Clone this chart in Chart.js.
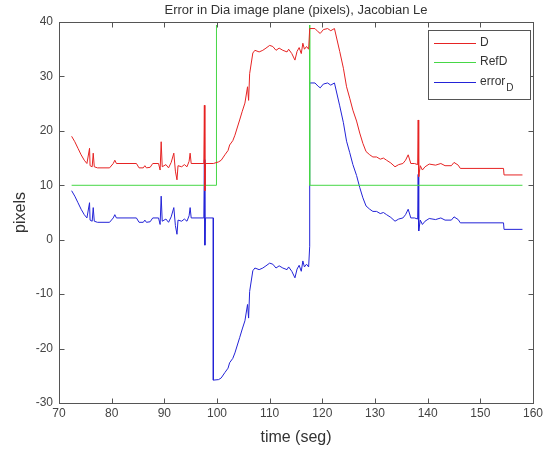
<!DOCTYPE html>
<html lang="en">
<head>
  <meta charset="UTF-8" />
  <title>Error in Dia image plane</title>
  <script src="https://cdn.jsdelivr.net/npm/chart.js"></script>
  <style>
    html, body { margin: 0; padding: 0; background: #fff; }
    canvas { display: block; }
  </style>
</head>
<body>
  <canvas id="errChart" width="548" height="451"></canvas>

  <script>
    // D (measured), time in seconds
    const dTime = [72.4,73.0,73.6,74.2,74.8,75.3,75.8,75.9,76.3,76.5,
      76.7,77.3,79.6,80.3,80.6,80.9,84.7,85.2,86.0,86.3,
      86.6,87.3,87.8,88.9,89.2,89.4,89.6,90.3,90.8,91.3,
      91.8,92.1,92.4,92.6,93.3,93.8,94.3,94.7,94.9,95.1,
      97.5,97.6,97.7,97.8,99.3,100.3,100.8,101.5,102.1,102.4,
      103.0,103.4,104.3,104.8,105.3,105.8,106.0,106.2,106.8,107.2,
      108.0,108.7,109.3,110.0,110.6,111.2,111.8,112.5,113.3,113.6,
      114.2,114.8,115.2,115.6,116.0,116.3,116.6,117.0,117.4,117.6,
      118.6,119.2,119.6,120.2,121.0,121.6,122.3,123.3,124.0,124.6,
      125.2,125.8,126.5,127.1,127.7,128.3,129.0,129.6,130.3,131.0,
      131.6,132.2,133.0,133.8,134.5,135.3,135.8,136.3,136.8,137.5,
      138.1,138.2,138.3,138.6,139.0,139.5,140.3,141.5,142.5,143.3,
      144.5,145.0,145.8,146.2,154.4,154.5,158.0];
    const dVal = [19.0,18.0,16.8,15.6,14.6,14.0,16.8,13.6,13.4,15.9,
      13.4,13.2,13.2,14.0,14.6,14.0,14.0,13.2,13.2,13.6,
      13.2,13.3,14.0,14.0,12.8,18.0,13.4,13.8,13.2,14.2,
      15.9,12.6,11.0,13.6,13.4,13.8,13.4,14.4,15.9,14.0,
      14.0,24.7,9.0,14.0,14.0,14.3,14.6,15.6,16.4,17.4,
      18.2,19.2,22.0,23.6,25.1,28.1,25.6,30.5,34.3,34.8,
      34.5,34.8,35.2,35.7,35.5,34.8,35.2,34.8,34.5,35.0,
      34.2,33.0,34.6,35.3,34.2,36.1,35.0,35.5,35.0,38.8,
      38.8,38.2,37.9,38.6,38.8,38.4,38.8,34.6,31.5,28.1,
      26.0,23.8,21.8,19.6,17.7,16.2,15.6,15.2,15.2,14.8,
      15.0,14.6,14.1,13.4,13.8,14.0,14.6,15.6,14.0,14.0,
      13.8,22.0,11.6,13.6,12.8,13.4,13.9,13.7,14.0,13.6,
      13.6,14.2,13.7,13.1,13.1,11.9,11.9];

    // reference RefD
    const refTime = [72.4, 99.9, 99.9, 117.6, 117.6, 158.0];
    const refVal = [10, 10, 40, 40, 10, 10];

    // error_D
    const eTime = [72.4,73.0,73.6,74.2,74.8,75.3,75.8,75.9,76.3,76.5,
      76.7,77.3,79.6,80.3,80.6,80.9,84.7,85.2,86.0,86.3,
      86.6,87.3,87.8,88.9,89.2,89.4,89.6,90.3,90.8,91.3,
      91.8,92.1,92.4,92.6,93.3,93.8,94.3,94.7,94.9,95.1,
      97.5,97.6,97.7,97.8,99.3,99.3,
      100.3,100.8,101.5,102.1,102.4,103.0,103.4,104.3,104.8,105.3,
      105.8,106.0,106.2,106.8,107.2,108.0,108.7,109.3,110.0,110.6,
      111.2,111.8,112.5,113.3,113.6,114.2,114.8,115.2,115.6,116.0,
      116.3,116.6,117.0,117.4,117.6,117.6,
      118.6,119.2,119.6,120.2,121.0,121.6,122.3,123.3,124.0,124.6,
      125.2,125.8,126.5,127.1,127.7,128.3,129.0,129.6,130.3,131.0,
      131.6,132.2,133.0,133.8,134.5,135.3,135.8,136.3,136.8,137.5,
      138.1,138.2,138.3,138.6,139.0,139.5,140.3,141.5,142.5,143.3,
      144.5,145.0,145.8,146.2,154.4,154.5,158.0];
    const eVal = [9.0,8.0,6.8,5.6,4.6,4.0,6.8,3.6,3.4,5.9,
      3.4,3.2,3.2,4.0,4.6,4.0,4.0,3.2,3.2,3.6,
      3.2,3.3,4.0,4.0,2.8,8.0,3.4,3.8,3.2,4.2,
      5.9,2.6,1.0,3.6,3.4,3.8,3.4,4.4,5.9,4.0,
      4.0,14.7,-1.0,4.0,4.0,-25.8,
      -25.7,-25.4,-24.4,-23.6,-22.6,-21.8,-20.8,-18.0,-16.4,-14.9,
      -11.9,-14.4,-9.5,-5.7,-5.2,-5.5,-5.2,-4.8,-4.3,-4.5,
      -5.2,-4.8,-5.2,-5.5,-5.0,-5.8,-7.0,-5.4,-4.7,-5.8,
      -3.9,-5.0,-4.5,-5.0,-1.2,28.8,
      28.8,28.2,27.9,28.6,28.8,28.4,28.8,24.6,21.5,18.1,
      16.0,13.8,11.8,9.6,7.7,6.2,5.6,5.2,5.2,4.8,
      5.0,4.6,4.1,3.4,3.8,4.0,4.6,5.6,4.0,4.0,
      3.8,12.0,1.6,3.6,2.8,3.4,3.9,3.7,4.0,3.6,
      3.6,4.2,3.7,3.1,3.1,1.9,1.9];

    const xTicks = [70, 80, 90, 100, 110, 120, 130, 140, 150, 160];
    const yTicks = [-30, -20, -10, 0, 10, 20, 30, 40];

    const FONT = "'Liberation Sans', Arial, sans-serif";
    const RED = 'rgb(230,35,35)';
    const GREEN = 'rgb(70,215,70)';
    const BLUE = 'rgb(35,35,215)';

    const toPoints = (xs, ys) => xs.map((x, i) => ({ x, y: ys[i] }));

    // matlab style box, inward ticks and legend drawn over the lines
    const boxPlugin = {
      id: 'box',
      afterDatasetsDraw(chart) {
        const { ctx, chartArea: a, scales } = chart;
        const L = Math.round(a.left) + 0.5, R = Math.round(a.right) + 0.5;
        const T = Math.round(a.top) + 0.5, B = Math.round(a.bottom) + 0.5;
        ctx.save();
        // RefD runs along the top edge at 40; keep it under the frame
        ctx.fillStyle = '#fff';
        ctx.fillRect(L + 0.5, T - 0.5, R - L - 1, 3);
        ctx.strokeStyle = '#555';
        ctx.lineWidth = 1;
        ctx.strokeRect(L, T, R - L, B - T);
        ctx.beginPath();
        xTicks.forEach(v => {
          const px = Math.round(scales.x.getPixelForValue(v)) + 0.5;
          ctx.moveTo(px, B); ctx.lineTo(px, B - 5);
          ctx.moveTo(px, T); ctx.lineTo(px, T + 5);
        });
        yTicks.forEach(v => {
          const py = Math.round(scales.y.getPixelForValue(v)) + 0.5;
          ctx.moveTo(L, py); ctx.lineTo(L + 5, py);
          ctx.moveTo(R, py); ctx.lineTo(R - 5, py);
        });
        ctx.stroke();

        // legend box
        const lx = 428.5, ly = 30.5, lw = 102, lh = 69;
        ctx.fillStyle = '#fff';
        ctx.fillRect(lx, ly, lw, lh);
        ctx.strokeRect(lx, ly, lw, lh);
        const items = [
          { color: RED, y: 43, label: 'D' },
          { color: GREEN, y: 62, label: 'RefD' },
          { color: BLUE, y: 82, label: 'error', sub: 'D' }
        ];
        ctx.textBaseline = 'middle';
        items.forEach(it => {
          ctx.strokeStyle = it.color;
          ctx.beginPath();
          ctx.moveTo(434, it.y + 0.5);
          ctx.lineTo(476, it.y + 0.5);
          ctx.stroke();
          ctx.fillStyle = '#333';
          ctx.font = '12px ' + FONT;
          ctx.fillText(it.label, 480, it.y);
          if (it.sub) {
            const w = ctx.measureText(it.label).width;
            ctx.font = '10px ' + FONT;
            ctx.fillText(it.sub, 480 + w + 1, it.y + 6);
          }
        });
        ctx.restore();
      }
    };

    new Chart(document.getElementById('errChart'), {
      type: 'line',
      data: {
        datasets: [
          { label: 'D', data: toPoints(dTime, dVal), borderColor: RED, borderWidth: 1 },
          { label: 'RefD', data: toPoints(refTime, refVal), borderColor: GREEN, borderWidth: 1, clip: 0 },
          { label: 'error_D', data: toPoints(eTime, eVal), borderColor: BLUE, borderWidth: 1 }
        ]
      },
      options: {
        responsive: false,
        animation: false,
        parsing: false,
        elements: { point: { radius: 0 }, line: { tension: 0 } },
        layout: { padding: { left: 0, right: 15, top: 0, bottom: 0 } },
        plugins: {
          legend: { display: false },
          tooltip: { enabled: false },
          title: {
            display: true,
            fullSize: false,
            text: 'Error in Dia image plane (pixels), Jacobian Le',
            color: '#333',
            font: { family: FONT, size: 13, weight: 'normal' },
            padding: { top: 2.4, bottom: 4 }
          }
        },
        scales: {
          x: {
            type: 'linear',
            min: 70,
            max: 160,
            afterBuildTicks: s => { s.ticks = xTicks.map(v => ({ value: v })); },
            ticks: { color: '#444', font: { family: FONT, size: 12 }, padding: 3, maxRotation: 0 },
            grid: { display: false, drawTicks: false },
            border: { display: false },
            title: { display: true, text: 'time (seg)', color: '#333', font: { family: FONT, size: 16 }, padding: { top: 4, bottom: 4 } },
            afterFit: s => { s.height = 48; }
          },
          y: {
            type: 'linear',
            min: -30,
            max: 40,
            afterBuildTicks: s => { s.ticks = yTicks.map(v => ({ value: v })); },
            ticks: { color: '#444', font: { family: FONT, size: 12 }, padding: 6 },
            grid: { display: false, drawTicks: false },
            border: { display: false },
            title: { display: true, text: 'pixels', color: '#333', font: { family: FONT, size: 16 }, padding: { top: 11, bottom: 0 } },
            afterFit: s => { s.width = 59; }
          }
        }
      },
      plugins: [boxPlugin]
    });
  </script>
</body>
</html>
